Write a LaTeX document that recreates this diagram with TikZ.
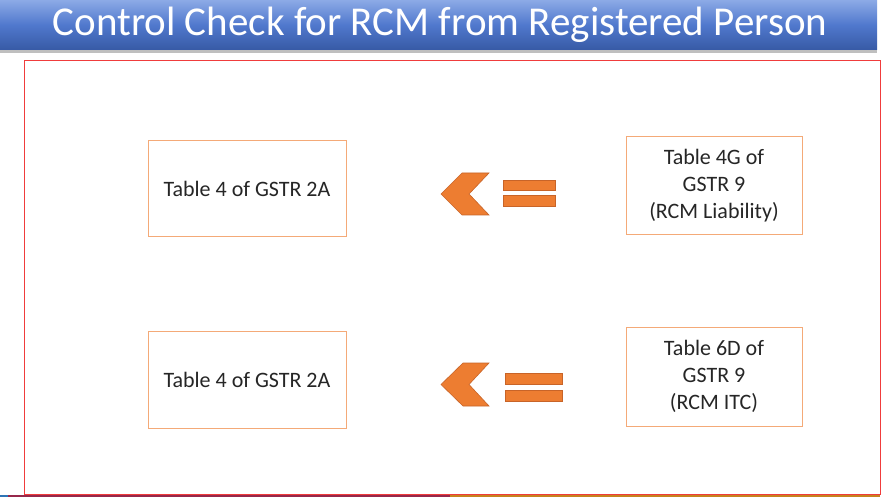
\documentclass[tikz,border=0pt]{standalone}
\usepackage{fontspec}
\setmainfont{Carlito}
\definecolor{boxline}{RGB}{244,170,120}
\definecolor{orfill}{RGB}{237,125,49}
\definecolor{ordraw}{RGB}{200,100,40}
\definecolor{titletop}{RGB}{140,170,230}
\definecolor{titlemid}{RGB}{80,120,205}
\definecolor{titlebot}{RGB}{55,90,165}
\definecolor{rectred}{RGB}{240,60,60}
\definecolor{stripblue}{RGB}{46,117,182}
\definecolor{stripmaroon}{RGB}{150,40,75}
\definecolor{striporange}{RGB}{200,130,30}
\tikzset{
  tbox/.style={draw=boxline, line width=1pt, fill=white, inner sep=0pt, align=center, font=\fontsize{22}{27}\selectfont, text=black!85},
  chev/.style={fill=orfill, draw=ordraw, line width=0.6pt},
  eqbar/.style={fill=orfill, draw=ordraw, line width=0.6pt},
}
\begin{document}
\begin{tikzpicture}[x=1pt,y=-1pt]
\useasboundingbox (0,0) rectangle (884,497);
\fill[white] (0,0) rectangle (884,497);
% title bar
\shade[top color=titletop, bottom color=titlebot, middle color=titlemid] (0,0) rectangle (877,50);
\fill[black!25] (0,50) rectangle (877,53);
\node[text=white, font=\fontsize{41}{44}\selectfont] (title) at (440,25) {Control Check for RCM from Registered Person};
% frame
\draw[rectred, line width=0.8pt] (24,60) rectangle (880,494);
% bottom strip
\fill[stripblue] (0,494.5) rectangle (8,497);
\fill[stripmaroon] (8,494.5) rectangle (450,497);
\fill[striporange] (450,494.5) rectangle (880,497);
% boxes
\node[tbox, minimum width=198pt, minimum height=96pt] (a1) at (247,189) {Table 4 of GSTR 2A};
\node[tbox, minimum width=176pt, minimum height=98pt] (b1) at (714,186) {Table 4G of\\GSTR 9\\(RCM Liability)};
\node[tbox, minimum width=198pt, minimum height=97pt] (a2) at (247,379.5) {Table 4 of GSTR 2A};
\node[tbox, minimum width=176pt, minimum height=99pt] (b2) at (714,376.5) {Table 6D of\\GSTR 9\\(RCM ITC)};
% chevrons
\draw[chev] (441,194) -- (462,173) -- (489,173) -- (469,194) -- (489,215) -- (462,215) -- cycle;
\draw[chev] (441,384.5) -- (463,363) -- (489,363) -- (469,384.5) -- (489,406) -- (463,406) -- cycle;
% equals bars
\draw[eqbar] (503,180) rectangle (555,190);
\draw[eqbar] (503,195) rectangle (555,206);
\draw[eqbar] (505,373) rectangle (562,384);
\draw[eqbar] (505,390) rectangle (562,401);
\end{tikzpicture}
\end{document}
